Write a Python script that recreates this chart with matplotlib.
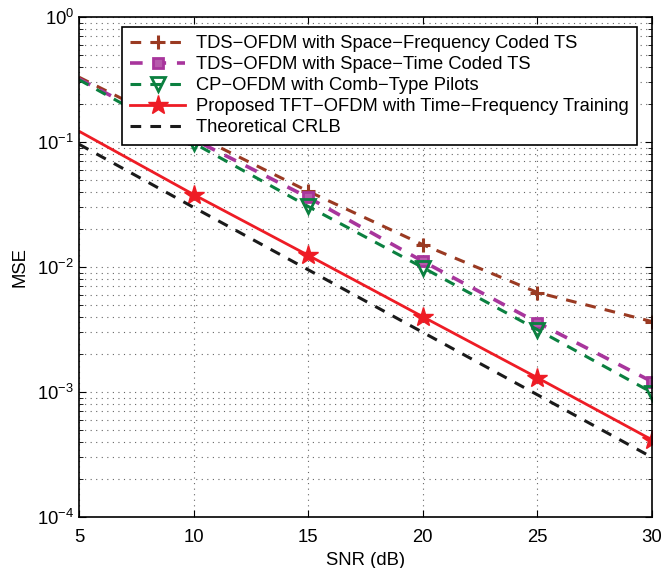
import matplotlib
matplotlib.use("Agg")
import matplotlib.pyplot as plt
from matplotlib.ticker import LogLocator, NullFormatter

plt.rcParams["font.family"] = ["Liberation Sans", "DejaVu Sans"]
plt.rcParams["mathtext.fontset"] = "custom"
plt.rcParams["mathtext.rm"] = "Liberation Sans"

snr = [5, 10, 15, 20, 25, 30]
mse_sf = [0.33, 0.115, 0.0403, 0.0151, 0.00625, 0.00366]
mse_st = [0.32, 0.105, 0.036, 0.0111, 0.00359, 0.00121]
mse_cp = [0.315, 0.098, 0.0305, 0.0099, 0.00315, 0.00099]
mse_tft = [0.122, 0.038, 0.0124, 0.0040, 0.0013, 0.000414]
mse_crlb = [0.096, 0.030, 0.0095, 0.0030, 0.00095, 0.0003]

labels = [
    "TDS\u2212OFDM with Space\u2212Frequency Coded TS",
    "TDS\u2212OFDM with Space\u2212Time Coded TS",
    "CP\u2212OFDM with Comb\u2212Type Pilots",
    "Proposed TFT\u2212OFDM with Time\u2212Frequency Training",
    "Theoretical CRLB",
]

fig = plt.figure(figsize=(6.72, 5.68), dpi=100)
ax = fig.add_axes([0.1176, 0.0898, 0.8527, 0.8802])

dash = (0, (3.5, 3))
marks = slice(1, None)
ax.plot(snr, mse_sf, ls=dash, color="#9a3a22", lw=2.2, marker="+", ms=10, mew=2.2,
        markevery=marks, label=labels[0])
ax.plot(snr, mse_st, ls=dash, color="#a8359c", lw=2.6, marker="s", ms=7, mew=2,
        mfc="#b65aac", markevery=marks, label=labels[1])
ax.plot(snr, mse_cp, ls=dash, color="#0b8040", lw=2.2, marker="v", ms=10, mew=2,
        mfc="none", markevery=marks, label=labels[2])
ax.plot(snr, mse_tft, ls="-", color="#ee1c25", lw=2, marker="*", ms=15,
        markevery=marks, label=labels[3])
ax.plot(snr, mse_crlb, ls=dash, color="#1a1a1a", lw=2.2, label=labels[4])

ax.set_yscale("log")
ax.set_xlim(5, 30)
ax.set_ylim(1e-4, 1)
ax.set_xticks([5, 10, 15, 20, 25, 30])
ax.yaxis.set_major_locator(LogLocator(base=10, numticks=10))
ax.yaxis.set_minor_locator(LogLocator(base=10, subs=range(2, 10), numticks=10))
ax.yaxis.set_minor_formatter(NullFormatter())
ax.grid(True, which="major", ls=(0, (1, 4)), color="#666666", lw=0.8)
ax.grid(True, which="minor", axis="y", ls=(0, (1, 4)), color="#666666", lw=0.8)
ax.tick_params(which="both", direction="in", top=True, right=True, labelsize=13.3)
ax.tick_params(axis="x", pad=9)
ax.tick_params(which="major", length=5)
ax.tick_params(which="minor", length=3)
for s in ax.spines.values():
    s.set_linewidth(1.2)

ax.set_xlabel("SNR (dB)", fontsize=13.3, labelpad=4)
ax.set_ylabel("MSE", fontsize=13.3, labelpad=6)

leg = ax.legend(loc="upper left", bbox_to_anchor=(0.075, 0.98), fontsize=13.2,
                frameon=True, fancybox=False, edgecolor="black", framealpha=1,
                handlelength=3.0, borderpad=0.45, labelspacing=0.22, handletextpad=0.6,
                borderaxespad=0)
leg.get_frame().set_linewidth(1.2)

fig.savefig("out.png", dpi=100)
